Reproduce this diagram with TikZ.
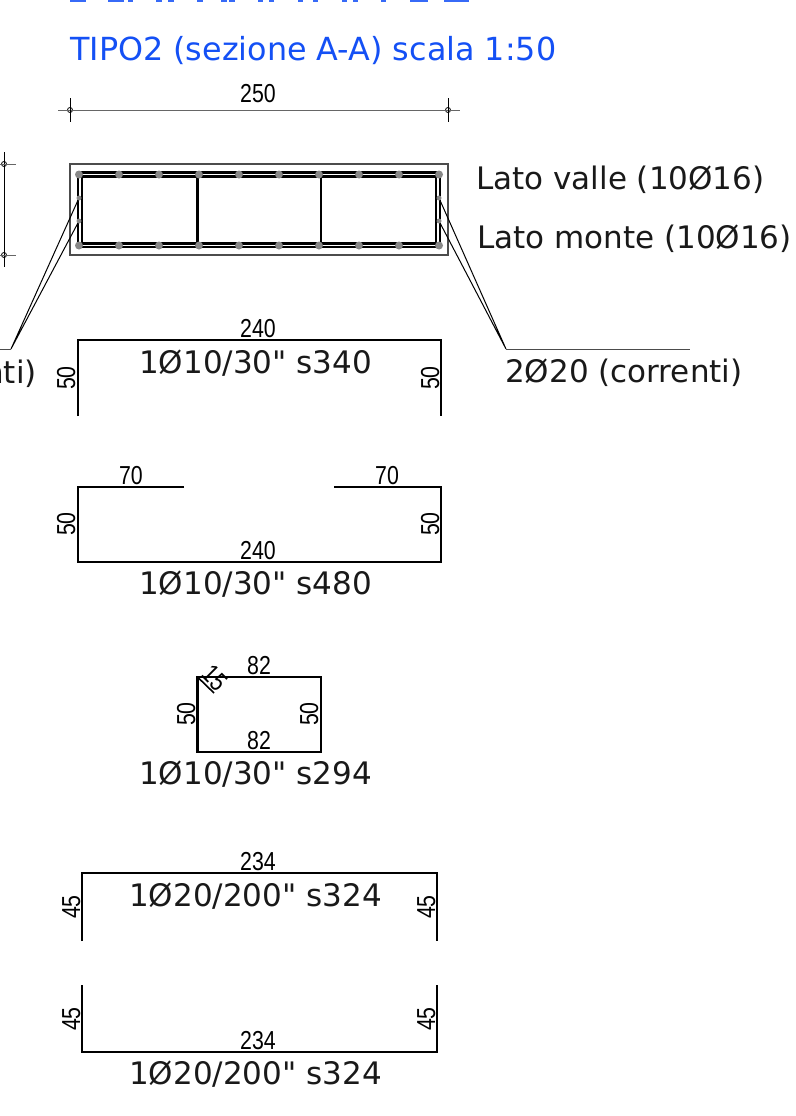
\documentclass[tikz,border=0pt]{standalone}
\usepackage{fontspec}
\newfontfamily\labelfont{DejaVu Sans}
\newfontfamily\dimfont[FakeStretch=0.82]{Liberation Sans}
\definecolor{titleblue}{RGB}{20,80,245}
\definecolor{bargray}{RGB}{135,135,135}
\tikzset{
	x=1pt,y=-1pt,
	label/.style={inner sep=0pt,anchor=base west,font=\labelfont\fontsize{31}{36}\selectfont,text=black!90},
	title/.style={inner sep=0pt,anchor=base west,font=\labelfont\fontsize{31.8}{36}\selectfont,text=titleblue},
	dimtext/.style={inner sep=0pt,anchor=base,font=\dimfont\fontsize{26}{30}\selectfont},
	dimside/.style={dimtext,rotate=90},
	rod/.style={line width=2.2pt},
	thin line/.style={line width=1pt},
	bar/.style={circle,fill=bargray,inner sep=0pt,minimum size=8pt},
	smallbar/.style={circle,fill=bargray,inner sep=0pt,minimum size=5pt},
	tick/.style={circle,draw,line width=.8pt,inner sep=0pt,minimum size=5pt}
}
\begin{document}
\begin{tikzpicture}

	\useasboundingbox (0,0) rectangle (795,1116);
	\fill[white] (0,0) rectangle (795,1116);

	% titolo tagliato in alto
	\foreach \xa/\xb in {70/86,108/124,128/133,156/162,168/174,197/203,221/227,229/235,258/263,269/274,298/303,313/318,342/347,353/358,381/386,410/428,444/469}
		\fill[titleblue!85] (\xa,0) rectangle (\xb,1.8);

	\node[title] (t1) at (70,61) {TIPO2 (sezione A-A) scala 1:50};

	% quota 250
	\node[tick] (q1) at (70,110) {};
	\node[tick] (q2) at (448,110) {};
	\draw[thin line,black!60] (58,110) -- (460,110);
	\draw[thin line] (70,98) -- (70,122) (448,98) -- (448,122);
	\node[dimtext] (q) at (258,102) {250};

	% quota laterale
	\node[tick] (q3) at (4,164) {};
	\node[tick] (q4) at (4,255) {};
	\draw[thin line] (4,152) -- (4,267);
	\draw[thin line,black!60] (0,164) -- (16,164) (0,255) -- (16,255);

	% sezione
	\draw[line width=1.2pt,black!70] (70,164) rectangle (448,255);
	\draw[rod] (78,172.5) -- (440,172.5) -- (440,247) -- (78,247) -- cycle;
	\draw[rod] (82,176.5) rectangle (436,243.5);
	\draw[rod] (197.5,176.5) -- (197.5,243.5) (321,176.5) -- (321,243.5);
	\foreach \x in {0,...,9} {
		\node[bar] (v\x) at (79+\x*40,174.5) {};
		\node[bar] (m\x) at (79+\x*40,245.5) {};
	}
	\node[smallbar] (a) at (79,198) {};
	\node[smallbar] (b) at (79,221) {};
	\node[smallbar] (c) at (439,198) {};
	\node[smallbar] (d) at (439,221) {};

	\node[label] (e) at (476,189) {Lato valle (10Ø16)};
	\node[label] (f) at (477,248) {Lato monte (10Ø16)};

	% correnti
	\coordinate (g) at (11,349);
	\coordinate (h) at (506,349);
	\coordinate (i) at (690,349);
	\draw[thin line] (a) -- (g) (b) -- (g);
	\draw[thin line] (c) -- (h) (d) -- (h);
	\draw[thin line,black!70] (g) -- (0,349) (h) -- (i);
	\node[label] (j) at (505,382) {2Ø20 (correnti)};
	\node[label,anchor=base east] (k) at (37,383) {nti)};

	% ferro 1
	\draw[rod] (78,416) -- (78,340) -- (441,340) -- (441,416);
	\node[dimtext] (l) at (258,337) {240};
	\node[dimside] (l1) at (75,378) {50};
	\node[dimside] (l2) at (439,378) {50};
	\node[label] (l3) at (139,373) {1Ø10/30" s340};

	% ferro 2
	\draw[rod] (184,487) -- (78,487) -- (78,562) -- (441,562) -- (441,487) -- (334,487);
	\node[dimtext] (n) at (131,484) {70};
	\node[dimtext] (n1) at (387,484) {70};
	\node[dimside] (n2) at (75,524) {50};
	\node[dimside] (n3) at (439,524) {50};
	\node[dimtext] (n4) at (258,559) {240};
	\node[label] (n5) at (139,594) {1Ø10/30" s480};

	% staffa
	\draw[rod] (197.5,677) rectangle (321,752);
	\draw[rod,line width=1.6pt] (197.5,677) -- (214,693);
	\node[dimtext,rotate=-45,anchor=center] (p) at (215,678) {15};
	\node[dimtext] (p1) at (259,674) {82};
	\node[dimtext] (p2) at (259,749) {82};
	\node[dimside] (p3) at (195,714) {50};
	\node[dimside] (p4) at (318,714) {50};
	\node[label] (p5) at (139,784) {1Ø10/30" s294};

	% ferro 4
	\draw[rod] (82,941) -- (82,873) -- (437,873) -- (437,941);
	\node[dimtext] (r) at (258,870) {234};
	\node[dimside] (r1) at (80,907) {45};
	\node[dimside] (r2) at (435,907) {45};
	\node[label] (r3) at (129,906) {1Ø20/200" s324};

	% ferro 5
	\draw[rod] (82,985) -- (82,1052) -- (437,1052) -- (437,985);
	\node[dimtext] (s) at (258,1049) {234};
	\node[dimside] (s1) at (80,1019) {45};
	\node[dimside] (s2) at (435,1019) {45};
	\node[label] (s3) at (129,1084) {1Ø20/200" s324};

\end{tikzpicture}
\end{document}
